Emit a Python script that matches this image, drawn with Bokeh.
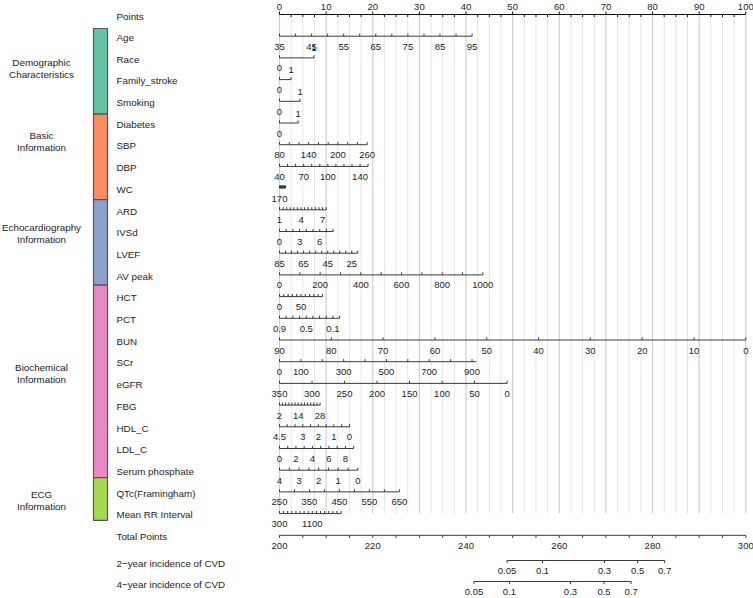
from bokeh.plotting import figure
from bokeh.models import Range1d
from bokeh.embed import file_html
from bokeh.resources import INLINE
from bokeh.core.properties import value

# ======================= DATA =======================
points_ticks = [i * 2.5 for i in range(41)]
points_labels = [0, 10, 20, 30, 40, 50, 60, 70, 80, 90, 100]

group_lines = [("Demographic", "Characteristics"), ("Basic", "Information"),
               ("Echocardiography", "Information"), ("Biochemical", "Information"),
               ("ECG", "Information")]
group_sizes = [4, 4, 4, 9, 2]
group_colors = ["#66C2A5", "#FC8D62", "#8DA0CB", "#E78AC3", "#A6D854"]

age_ticks = [35, 40, 45, 50, 55, 60, 65, 70, 75, 80, 85, 90, 95]
age_labels = [35, 45, 55, 65, 75, 85, 95]
age_range = [35, 95]
age_points = [0, 41.3]

race_ticks = [0, 1]; race_labels = [0, 1]; race_range = [0, 1]; race_points = [0, 7.4]
fam_ticks = [0, 1]; fam_labels = [0, 1]; fam_range = [0, 1]; fam_points = [0, 2.5]
smk_ticks = [0, 1]; smk_labels = [0, 1]; smk_range = [0, 1]; smk_points = [0, 4.4]
dia_ticks = [0, 1]; dia_labels = [0, 1]; dia_range = [0, 1]; dia_points = [0, 4.0]

sbp_ticks = [80, 100, 120, 140, 160, 180, 200, 220, 240, 260]
sbp_labels = [80, 140, 200, 260]
sbp_range = [80, 260]
sbp_points = [0, 18.8]

dbp_ticks = [40, 50, 60, 70, 80, 90, 100, 110, 120, 130, 140, 150]
dbp_labels = [40, 70, 100, 140]
dbp_range = [40, 150]
dbp_points = [0, 19.0]

wc_ticks = [170, 160, 150, 140, 130, 120, 110, 100, 90, 80, 70, 60, 50]
wc_labels = [170]
wc_range = [170, 50]
wc_points = [0, 1.3]

ard_ticks = [1, 1.5, 2, 2.5, 3, 3.5, 4, 4.5, 5, 5.5, 6, 6.5, 7, 7.5]
ard_labels = [1, 4, 7]
ard_range = [1, 7.5]
ard_points = [0, 10.0]

ivsd_ticks = [0, 1, 2, 3, 4, 5, 6, 7, 8]
ivsd_labels = [0, 3, 6]
ivsd_range = [0, 8]
ivsd_points = [0, 11.5]

lvef_ticks = [85, 80, 75, 70, 65, 60, 55, 50, 45, 40, 35, 30, 25, 20]
lvef_labels = [85, 65, 45, 25]
lvef_range = [85, 20]
lvef_points = [0, 16.8]

avp_ticks = [0, 100, 200, 300, 400, 500, 600, 700, 800, 900, 1000]
avp_labels = [0, 200, 400, 600, 800, 1000]
avp_range = [0, 1000]
avp_points = [0, 43.6]

hct_ticks = [0, 10, 20, 30, 40, 50, 60, 70, 80, 90, 100]
hct_labels = [0, 50]
hct_range = [0, 100]
hct_points = [0, 9.2]

pct_ticks = [0.9, 0.8, 0.7, 0.6, 0.5, 0.4, 0.3, 0.2, 0.1, 0.0]
pct_labels = [0.9, 0.5, 0.1]
pct_range = [0.9, 0.0]
pct_points = [0, 12.9]

bun_ticks = [90, 80, 70, 60, 50, 40, 30, 20, 10, 0]
bun_labels = [90, 80, 70, 60, 50, 40, 30, 20, 10, 0]
bun_range = [90, 0]
bun_points = [0, 100]

scr_ticks = [0, 100, 200, 300, 400, 500, 600, 700, 800, 900]
scr_labels = [0, 100, 300, 500, 700, 900]
scr_range = [0, 920]
scr_points = [0, 42.2]

egfr_ticks = [350, 300, 250, 200, 150, 100, 50, 0]
egfr_labels = [350, 300, 250, 200, 150, 100, 50, 0]
egfr_range = [350, 0]
egfr_points = [0, 48.8]

fbg_ticks = [2, 4, 6, 8, 10, 12, 14, 16, 18, 20, 22, 24, 26, 28]
fbg_labels = [2, 14, 28]
fbg_range = [2, 28]
fbg_points = [0, 8.7]

hdl_ticks = [4.5, 4, 3.5, 3, 2.5, 2, 1.5, 1, 0.5, 0]
hdl_labels = [4.5, 3, 2, 1, 0]
hdl_range = [4.5, 0]
hdl_points = [0, 15.0]

ldl_ticks = [0, 1, 2, 3, 4, 5, 6, 7, 8, 9]
ldl_labels = [0, 2, 4, 6, 8]
ldl_range = [0, 9]
ldl_points = [0, 15.9]

pho_ticks = [4, 3.5, 3, 2.5, 2, 1.5, 1, 0.5, 0]
pho_labels = [4, 3, 2, 1, 0]
pho_range = [4, 0]
pho_points = [0, 16.8]

qtc_ticks = [250, 300, 350, 400, 450, 500, 550, 600, 650]
qtc_labels = [250, 350, 450, 550, 650]
qtc_range = [250, 650]
qtc_points = [0, 25.7]

rr_ticks = [300, 400, 500, 600, 700, 800, 900, 1000, 1100, 1200, 1300, 1400, 1500, 1600, 1700, 1800]
rr_labels = [300, 1100]
rr_range = [300, 1800]
rr_points = [0, 13.2]

total_ticks = [200 + 5 * i for i in range(21)]
total_labels = [200, 220, 240, 260, 280, 300]
total_range = [200, 300]
total_points = [0, 100]

prob_labels = [0.05, 0.1, 0.3, 0.5, 0.7]
cvd2_total = [248.8, 256.4, 269.7, 276.8, 282.6]
cvd4_total = [241.7, 249.3, 262.4, 269.6, 275.4]

variables = [
    ("Age", age_ticks, age_labels, age_range, age_points),
    ("Race", race_ticks, race_labels, race_range, race_points),
    ("Family_stroke", fam_ticks, fam_labels, fam_range, fam_points),
    ("Smoking", smk_ticks, smk_labels, smk_range, smk_points),
    ("Diabetes", dia_ticks, dia_labels, dia_range, dia_points),
    ("SBP", sbp_ticks, sbp_labels, sbp_range, sbp_points),
    ("DBP", dbp_ticks, dbp_labels, dbp_range, dbp_points),
    ("WC", wc_ticks, wc_labels, wc_range, wc_points),
    ("ARD", ard_ticks, ard_labels, ard_range, ard_points),
    ("IVSd", ivsd_ticks, ivsd_labels, ivsd_range, ivsd_points),
    ("LVEF", lvef_ticks, lvef_labels, lvef_range, lvef_points),
    ("AV peak", avp_ticks, avp_labels, avp_range, avp_points),
    ("HCT", hct_ticks, hct_labels, hct_range, hct_points),
    ("PCT", pct_ticks, pct_labels, pct_range, pct_points),
    ("BUN", bun_ticks, bun_labels, bun_range, bun_points),
    ("SCr", scr_ticks, scr_labels, scr_range, scr_points),
    ("eGFR", egfr_ticks, egfr_labels, egfr_range, egfr_points),
    ("FBG", fbg_ticks, fbg_labels, fbg_range, fbg_points),
    ("HDL_C", hdl_ticks, hdl_labels, hdl_range, hdl_points),
    ("LDL_C", ldl_ticks, ldl_labels, ldl_range, ldl_points),
    ("Serum phosphate", pho_ticks, pho_labels, pho_range, pho_points),
    ("QTc(Framingham)", qtc_ticks, qtc_labels, qtc_range, qtc_points),
    ("Mean RR Interval", rr_ticks, rr_labels, rr_range, rr_points),
]

# ======================= LAYOUT / STYLE =======================
FONT = "Liberation Sans"
TXT = "#1e1e1e"
AXC = "#3a3a3a"
PX0, PXPP = 279.0, 4.663          # pixel position of 0 points and px per point
ROW0, ROWDY = 14.0, 21.7          # row line positions
PROB_Y = [560.0, 581.0]
BAR_TOP, BAR_UNIT = 28.0, 21.39
BAR_X = (93.0, 107.0)
GROUP_X = 41.0
GROUP_Y = [67.5, 141.0, 233.0, 373.0, 499.5]
NAME_X = 116.0
W, H = 753, 598
TICK_FS = "9.5px"


def px2pts(px):
    return (px - PX0) / PXPP


def row_y(k):
    return ROW0 + ROWDY * k


def fmt(v):
    return f"{v:g}"


p = figure(width=W, height=H, output_backend="svg", toolbar_location=None,
           x_range=Range1d(px2pts(0.0), px2pts(W)),
           y_range=Range1d(float(H), 0.0), min_border=0)
p.xaxis.visible = False
p.yaxis.visible = False
p.xgrid.visible = False
p.ygrid.visible = False
p.outline_line_color = None
p.background_fill_color = "white"
p.border_fill_color = "white"


def texts(xs, ys, labels, size=TICK_FS, align="center", color=TXT):
    p.text(x=xs, y=ys, text=labels, text_font=value(FONT), text_font_size=size,
           text_align=align, text_baseline="middle", text_color=color)


# ---- vertical reference lines ----
grid_bottom = row_y(len(variables))
minor = [t for t in points_ticks if t % 10 != 0]
major = [t for t in points_ticks if t % 10 == 0]
p.segment(x0=minor, y0=[ROW0] * len(minor), x1=minor, y1=[grid_bottom] * len(minor),
          line_color="#e6e6e6", line_width=1)
p.segment(x0=major, y0=[ROW0] * len(major), x1=major, y1=[grid_bottom] * len(major),
          line_color="#cfcfcf", line_width=1.2)

# ---- Points axis ----
p.segment(x0=[points_ticks[0]], y0=[ROW0], x1=[points_ticks[-1]], y1=[ROW0],
          line_color="#111111", line_width=1)
p.segment(x0=major, y0=[ROW0] * len(major), x1=major, y1=[ROW0 - 3] * len(major),
          line_color="#111111", line_width=1)
p.segment(x0=minor, y0=[ROW0] * len(minor), x1=minor, y1=[ROW0 + 2.5] * len(minor),
          line_color="#111111", line_width=1)
texts(points_labels, [ROW0 - 8] * len(points_labels), [fmt(v) for v in points_labels])

# ---- variable axes ----
for k, (name, ticks, labels, rng, pts) in enumerate(variables, start=1):
    y = row_y(k)

    def to_pts(v, rng=rng, pts=pts):
        return pts[0] + (v - rng[0]) / (rng[1] - rng[0]) * (pts[1] - pts[0])

    p.segment(x0=[to_pts(rng[0])], y0=[y], x1=[to_pts(rng[1])], y1=[y],
              line_color=AXC, line_width=1)
    tx = [to_pts(t) for t in ticks]
    p.segment(x0=tx, y0=[y] * len(tx), x1=tx, y1=[y - 2.6] * len(tx),
              line_color=AXC, line_width=1)
    binary = list(ticks) == [0, 1]
    lx, ly, lt = [], [], []
    for v in labels:
        lx.append(to_pts(v))
        if binary and v == 1:
            ly.append(y - 9.5)
        else:
            ly.append(y + 10.5)
        lt.append(fmt(v))
    texts(lx, ly, lt)

# ---- Total points ----
ky = row_y(len(variables) + 1)


def tp_to_pts(v):
    return total_points[0] + (v - total_range[0]) / (total_range[1] - total_range[0]) * (total_points[1] - total_points[0])


p.segment(x0=[tp_to_pts(total_range[0])], y0=[ky], x1=[tp_to_pts(total_range[1])], y1=[ky],
          line_color=AXC, line_width=1)
tt = [tp_to_pts(v) for v in total_ticks]
p.segment(x0=tt, y0=[ky] * len(tt), x1=tt, y1=[ky + 2.6] * len(tt), line_color=AXC, line_width=1)
texts([tp_to_pts(v) for v in total_labels], [ky + 11] * len(total_labels), [fmt(v) for v in total_labels])

# ---- probability axes ----
for y, tot in zip(PROB_Y, [cvd2_total, cvd4_total]):
    xs = [tp_to_pts(v) for v in tot]
    p.segment(x0=[xs[0]], y0=[y], x1=[xs[-1]], y1=[y], line_color=AXC, line_width=1)
    p.segment(x0=xs, y0=[y] * len(xs), x1=xs, y1=[y + 2.6] * len(xs), line_color=AXC, line_width=1)
    texts(xs, [y + 10.5] * len(xs), [fmt(v) for v in prob_labels])

# ---- row names ----
row_names = ["Points"] + [v[0] for v in variables] + ["Total Points"]
row_ys = [row_y(0) + 2] + [row_y(k) + 1.2 for k in range(1, len(variables) + 1)] + [row_y(len(variables) + 1) + 1.2]
row_names += ["2\u2212year incidence of CVD", "4\u2212year incidence of CVD"]
row_ys += [PROB_Y[0] + 3, PROB_Y[1] + 3]
texts([px2pts(NAME_X)] * len(row_names), row_ys, row_names, size="9.8px", align="left")

# ---- group colour bar ----
tops, bottoms = [], []
acc = 0
for n in group_sizes:
    tops.append(BAR_TOP + BAR_UNIT * acc)
    acc += n
    bottoms.append(BAR_TOP + BAR_UNIT * acc)
p.quad(left=[px2pts(BAR_X[0])] * len(tops), right=[px2pts(BAR_X[1])] * len(tops),
       top=tops, bottom=bottoms, fill_color=group_colors, line_color="#555555", line_width=1.2)

gx = px2pts(GROUP_X)
texts([gx] * len(group_lines), [g - 6 for g in GROUP_Y], [a for a, b in group_lines], size="9.8px")
texts([gx] * len(group_lines), [g + 6 for g in GROUP_Y], [b for a, b in group_lines], size="9.8px")

open("out.html", "w").write(file_html(p, INLINE))
